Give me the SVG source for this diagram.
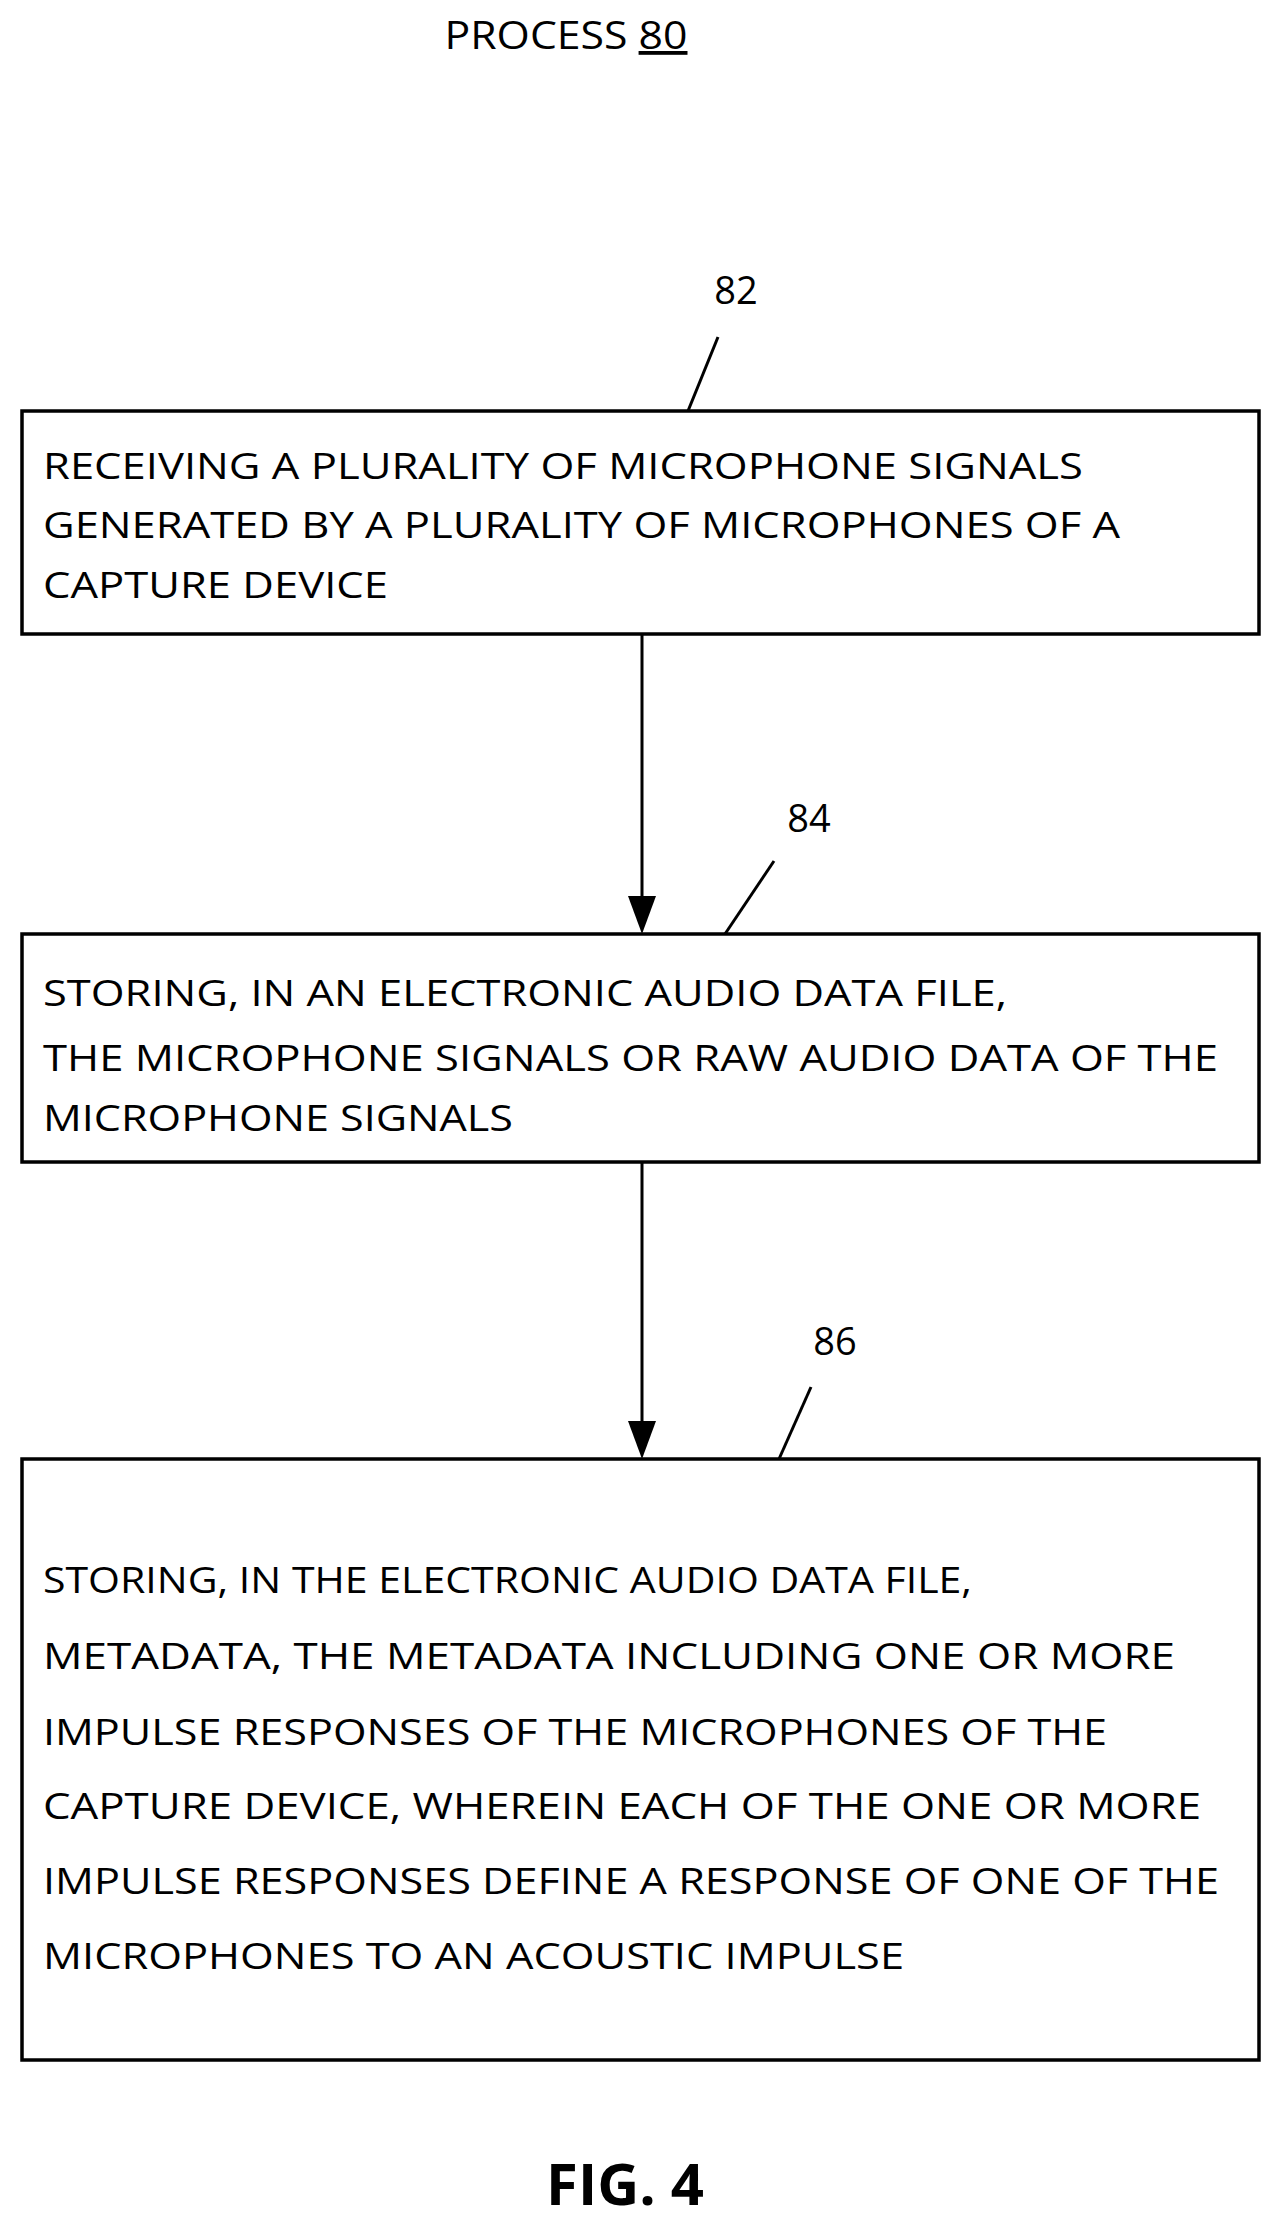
<svg xmlns="http://www.w3.org/2000/svg" width="1283" height="2227" viewBox="0 0 1283 2227">
<defs>
<style>
.t{font-family:"Open Sans","Liberation Sans",sans-serif;font-size:36px;fill:#000}
.n{font-family:"Open Sans","Liberation Sans",sans-serif;font-size:38px;fill:#000;text-anchor:middle}
.b{fill:#fff;stroke:#000;stroke-width:3.5}
.l{stroke:#000;stroke-width:3;fill:none}
</style>
</defs>
<rect width="1283" height="2227" fill="#fff"/>
<text x="566" y="49" class="n" textLength="243" lengthAdjust="spacingAndGlyphs">PROCESS <tspan text-decoration="underline">80</tspan></text>
<g id="connectors">
<line x1="642" y1="634" x2="642" y2="896" class="l"/>
<path d="M628,896 L656,896 L642,934 Z"/>
<line x1="642" y1="1162" x2="642" y2="1421" class="l"/>
<path d="M628,1421 L656,1421 L642,1459 Z"/>
<line x1="718" y1="337" x2="688" y2="411" class="l"/>
<line x1="774" y1="861" x2="725" y2="934" class="l"/>
<line x1="811" y1="1387" x2="779" y2="1459" class="l"/>
</g>
<g id="n82">
<text x="736" y="304" class="n">82</text>
<rect x="22" y="411" width="1237" height="223" class="b"/>
<text class="t" x="43" y="479" textLength="1040" lengthAdjust="spacingAndGlyphs">RECEIVING A PLURALITY OF MICROPHONE SIGNALS</text>
<text class="t" x="43" y="538" textLength="1077" lengthAdjust="spacingAndGlyphs">GENERATED BY A PLURALITY OF MICROPHONES OF A</text>
<text class="t" x="43" y="598" textLength="345" lengthAdjust="spacingAndGlyphs">CAPTURE DEVICE</text>
</g>
<g id="n84">
<text x="809" y="832" class="n">84</text>
<rect x="22" y="934" width="1237" height="228" class="b"/>
<text class="t" x="43" y="1006" textLength="964" lengthAdjust="spacingAndGlyphs">STORING, IN AN ELECTRONIC AUDIO DATA FILE,</text>
<text class="t" x="43" y="1071" textLength="1175" lengthAdjust="spacingAndGlyphs">THE MICROPHONE SIGNALS OR RAW AUDIO DATA OF THE</text>
<text class="t" x="43" y="1131" textLength="470" lengthAdjust="spacingAndGlyphs">MICROPHONE SIGNALS</text>
</g>
<g id="n86">
<text x="835" y="1355" class="n">86</text>
<rect x="22" y="1459" width="1237" height="601" class="b"/>
<text class="t" x="43" y="1593" textLength="929" lengthAdjust="spacingAndGlyphs">STORING, IN THE ELECTRONIC AUDIO DATA FILE,</text>
<text class="t" x="43" y="1669" textLength="1132" lengthAdjust="spacingAndGlyphs">METADATA, THE METADATA INCLUDING ONE OR MORE</text>
<text class="t" x="43" y="1745" textLength="1064" lengthAdjust="spacingAndGlyphs">IMPULSE RESPONSES OF THE MICROPHONES OF THE</text>
<text class="t" x="43" y="1819" textLength="1158" lengthAdjust="spacingAndGlyphs">CAPTURE DEVICE, WHEREIN EACH OF THE ONE OR MORE</text>
<text class="t" x="43" y="1894" textLength="1176" lengthAdjust="spacingAndGlyphs">IMPULSE RESPONSES DEFINE A RESPONSE OF ONE OF THE</text>
<text class="t" x="43" y="1969" textLength="861" lengthAdjust="spacingAndGlyphs">MICROPHONES TO AN ACOUSTIC IMPULSE</text>
</g>
<text x="625" y="2205" class="n" style="font-size:58px;font-weight:bold">FIG. 4</text>
</svg>
